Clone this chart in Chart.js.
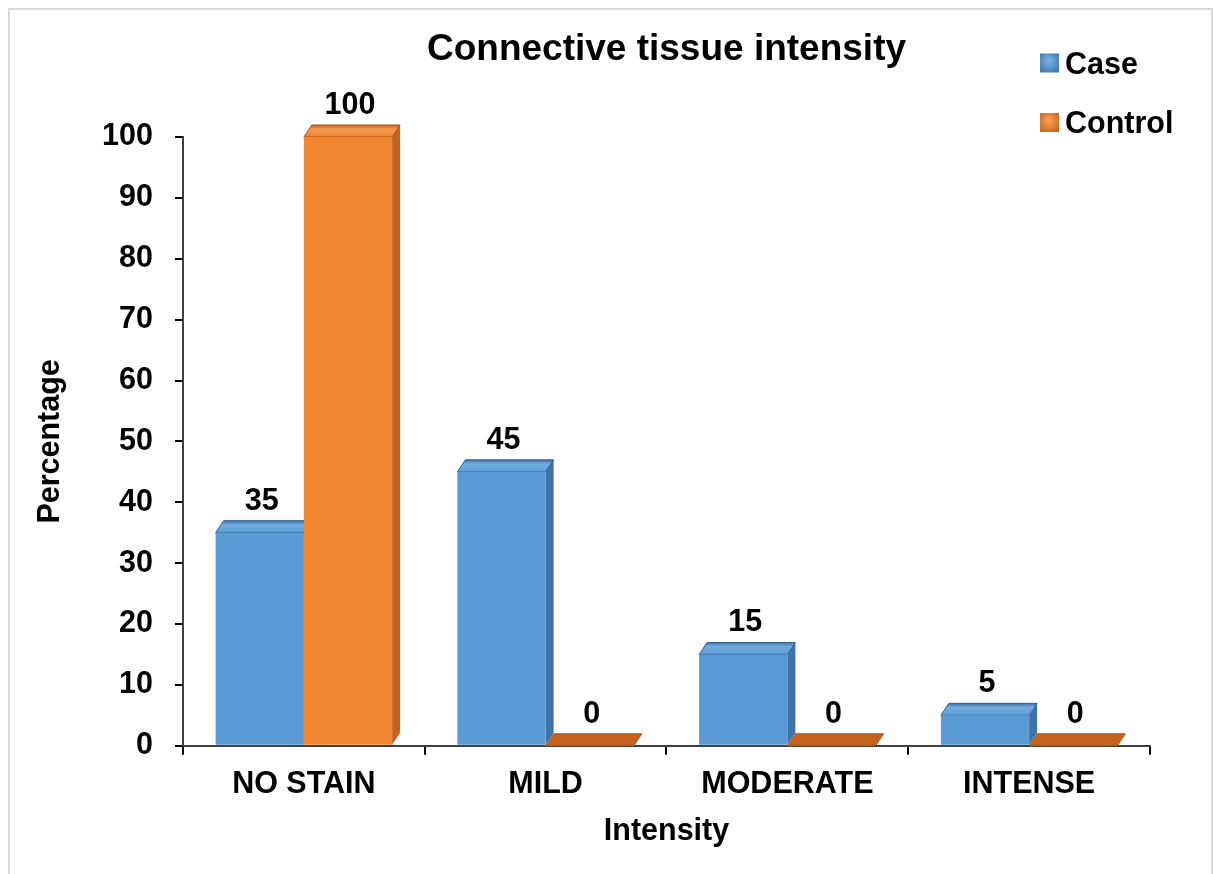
<!DOCTYPE html>
<html>
<head>
<meta charset="utf-8">
<title>Connective tissue intensity</title>
<script src="https://cdn.jsdelivr.net/npm/chart.js@4"></script>
<style>
  body { margin: 0; background: #fff; }
  canvas { display: block; }
</style>
</head>
<body>
<canvas id="myChart" width="1213" height="874"></canvas>
<script>
// chart data
const categories = ['NO STAIN', 'MILD', 'MODERATE', 'INTENSE'];
const caseValues = [35, 45, 15, 5];
const controlValues = [100, 0, 0, 0];
const seriesNames = ['Case', 'Control'];
const yMin = 0;
const yMax = 100;
const yStep = 10;

const FONT = "'Liberation Sans', Arial, sans-serif";
const blue = { front: '#5b9bd5', top: '#74ade0', side: '#3d73a9', dark: '#2f5f8f' };
const orange = { front: '#f28530', top: '#f6994f', side: '#c4621e', dark: '#a85318' };
const palette = [blue, orange];

const DEPTH = 12;  // 3d look: height of top face
const SHIFT = 8;   // 3d look: sideways offset of back edge

// white page + light grey frame round the chart
const framePlugin = {
    id: 'frame',
    beforeDraw: (chart)=>{
        const ctx = chart.ctx;
        ctx.save();
        ctx.fillStyle = '#fff';
        ctx.fillRect(0, 0, chart.width, chart.height);
        ctx.strokeStyle = '#d9d9d9';
        ctx.lineWidth = 2;
        ctx.strokeRect(9, 9, chart.width - 10, chart.height + 20);
        ctx.restore();
    }
}

// top and side faces, drawn behind the bars so neighbours cover them
const bar3dPlugin = {
    id: 'bar3d',
    beforeDatasetsDraw: (chart)=>{
        const ctx = chart.ctx;
        ctx.save();
        chart.data.datasets.forEach((ds, i)=>{
            const col = palette[i];
            chart.getDatasetMeta(i).data.forEach((el, j)=>{
                const left = el.x - el.width / 2;
                const right = el.x + el.width / 2;
                const y = el.y;
                const base = el.base;
                // side face
                ctx.beginPath();
                ctx.moveTo(right, y);
                ctx.lineTo(right + SHIFT, y - DEPTH);
                ctx.lineTo(right + SHIFT, base - DEPTH);
                ctx.lineTo(right, base);
                ctx.closePath();
                ctx.fillStyle = col.side;
                ctx.fill();
                // top face
                ctx.beginPath();
                ctx.moveTo(left, y);
                ctx.lineTo(left + SHIFT, y - DEPTH);
                ctx.lineTo(right + SHIFT, y - DEPTH);
                ctx.lineTo(right, y);
                ctx.closePath();
                if (ds.data[j] === 0) {
                    ctx.fillStyle = col.side;
                } else {
                    const g = ctx.createLinearGradient(0, y - DEPTH, 0, y);
                    g.addColorStop(0, col.side);
                    g.addColorStop(0.35, col.top);
                    g.addColorStop(1, col.front);
                    ctx.fillStyle = g;
                }
                ctx.fill();
                ctx.strokeStyle = col.dark;
                ctx.lineWidth = 1;
                ctx.stroke();
            })
        })
        ctx.restore();
    },
    afterDatasetsDraw: (chart)=>{
        const ctx = chart.ctx;
        ctx.save();
        ctx.font = `bold 30.5px ${FONT}`;
        ctx.fillStyle = '#000';
        ctx.textAlign = 'center';
        ctx.textBaseline = 'alphabetic';
        chart.data.datasets.forEach((ds, i)=>{
            chart.getDatasetMeta(i).data.forEach((el, j)=>{
                // value label above the bar
                ctx.fillText(String(ds.data[j]), el.x + 2, el.y - 23);
            })
        })
        ctx.restore();
    }
}

// legend in the top right corner, outside the plot area
const legendPlugin = {
    id: 'cornerLegend',
    afterDraw: (chart)=>{
        const ctx = chart.ctx;
        const x = chart.chartArea.right - 110;
        const rows = [62.5, 122];
        ctx.save();
        ctx.font = `bold 30.5px ${FONT}`;
        ctx.textBaseline = 'alphabetic';
        ctx.textAlign = 'left';
        chart.data.datasets.forEach((ds, i)=>{
            const col = palette[i];
            const cy = rows[i];
            const g = ctx.createRadialGradient(x + 9, cy - 2, 2, x + 9, cy, 13);
            g.addColorStop(0, col.top);
            g.addColorStop(1, col.side);
            ctx.fillStyle = g;
            ctx.fillRect(x, cy - 9, 19, 19);
            ctx.fillStyle = '#000';
            ctx.fillText(ds.label, x + 25, cy + 11);
        })
        ctx.restore();
    }
}

const axisFont = { family: FONT, size: 30.5, weight: 'bold' };

const ctx = document.getElementById('myChart').getContext('2d');
new Chart(ctx, {
    type: 'bar',
    data: {
        labels: categories,
        datasets: [
            { label: seriesNames[0], data: caseValues, backgroundColor: blue.front, borderWidth: 0 },
            { label: seriesNames[1], data: controlValues, backgroundColor: orange.front, borderWidth: 0 }
        ]
    },
    options: {
        responsive: false,
        animation: false,
        categoryPercentage: 0.73,
        barPercentage: 1.0,
        layout: { padding: { left: 20, right: 63, top: 10, bottom: 9 } },
        plugins: {
            legend: { display: false },
            tooltip: { enabled: false },
            title: {
                display: true,
                text: 'Connective tissue intensity',
                fullSize: false,
                color: '#000',
                font: { family: FONT, size: 37, weight: 'bold' },
                padding: { top: 18, bottom: 64.6 }
            }
        },
        scales: {
            x: {
                grid: { display: true, drawOnChartArea: false, drawTicks: true, tickLength: 9, tickColor: '#000', lineWidth: 2 },
                border: { display: true, color: '#404040', width: 2 },
                ticks: { color: '#000', font: axisFont, padding: 11, maxRotation: 0 },
                title: {
                    display: true, text: 'Intensity', color: '#000', font: axisFont,
                    padding: { top: 0, bottom: 15 }
                }
            },
            y: {
                min: yMin,
                max: yMax,
                grid: { display: true, drawOnChartArea: false, drawTicks: true, tickLength: 8, tickColor: '#000', lineWidth: 2 },
                border: { display: true, color: '#404040', width: 2 },
                ticks: { stepSize: yStep, color: '#000', font: axisFont, padding: 22 },
                title: {
                    display: true, text: 'Percentage', color: '#000', font: axisFont,
                    padding: { top: 12, bottom: 11.5 }
                }
            }
        }
    },
    plugins: [framePlugin, bar3dPlugin, legendPlugin]
});
</script>
</body>
</html>
